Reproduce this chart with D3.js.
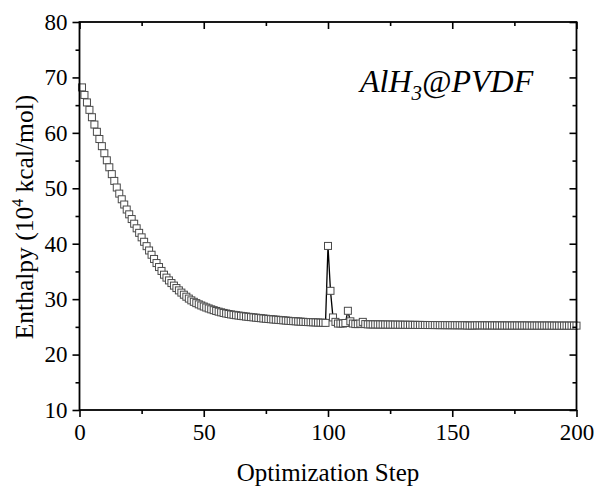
<!DOCTYPE html>
<html><head><meta charset="utf-8">
<script src="https://cdn.jsdelivr.net/npm/d3@7"></script>
<style>body{margin:0;background:#fff}</style>
</head><body>
<svg id="c" width="598" height="488"></svg>
<script>
// Enthalpy (10^4 kcal/mol) per optimization step, steps 1..200
const enthalpy = [
68.20,66.84,65.49,64.15,62.82,61.50,60.19,58.89,57.60,56.32,
55.05,53.79,52.55,51.33,50.14,49.04,48.02,47.07,46.17,45.30,
44.45,43.61,42.78,41.96,41.15,40.35,39.56,38.78,38.01,37.25,
36.51,35.79,35.09,34.41,33.88,33.38,32.90,32.44,32.00,31.58,
31.18,30.80,30.44,30.10,29.78,29.52,29.28,29.06,28.86,28.67,
28.49,28.32,28.16,28.01,27.87,27.74,27.62,27.51,27.41,27.32,
27.24,27.17,27.10,27.04,26.98,26.92,26.86,26.81,26.76,26.71,
26.66,26.61,26.56,26.51,26.46,26.42,26.38,26.34,26.30,26.26,
26.22,26.18,26.14,26.10,26.06,26.03,26.00,25.97,25.94,25.91,
25.88,25.86,25.84,25.82,25.80,25.78,25.76,25.74,25.72,39.60,
31.50,26.70,25.90,25.60,25.60,25.60,25.70,27.90,26.00,25.60,
25.50,25.50,25.60,25.90,25.50,25.45,25.45,25.44,25.44,25.43,
25.43,25.42,25.42,25.41,25.41,25.40,25.40,25.39,25.39,25.38,
25.38,25.37,25.37,25.36,25.36,25.35,25.35,25.34,25.34,25.33,
25.33,25.33,25.32,25.32,25.31,25.31,25.31,25.30,25.30,25.30,
25.29,25.29,25.29,25.28,25.28,25.25,25.24,25.24,25.25,25.27,
25.27,25.27,25.26,25.26,25.26,25.26,25.25,25.25,25.25,25.25,
25.24,25.24,25.24,25.24,25.24,25.24,25.24,25.24,25.24,25.24,
25.23,25.23,25.23,25.23,25.23,25.23,25.23,25.23,25.23,25.23,
25.22,25.22,25.22,25.22,25.22,25.22,25.22,25.22,25.22,25.22
];
const xMajor = [0, 50, 100, 150, 200];
const xMinor = [25, 75, 125, 175];
const yMajor = [10, 20, 30, 40, 50, 60, 70, 80];
const yMinor = [15, 25, 35, 45, 55, 65, 75];
const xTitle = "Optimization Step";
const annotation = {base: "AlH", sub: "3", rest: "@PVDF"};

const svg = d3.select("#c");
const L = 79.5, R = 576.5, T = 22, B = 410;
const x = d3.scaleLinear().domain([0, 200]).range([L, R]);
const y = d3.scaleLinear().domain([10, 80]).range([B, T]);
const font = "Liberation Serif";

const pts = enthalpy.map((v, i) => ({s: i + 1, v}));

// line beneath markers
svg.append("path").datum(pts)
  .attr("fill", "none").attr("stroke", "#000").attr("stroke-width", 1.3)
  .attr("d", d3.line().x(d => x(d.s)).y(d => y(d.v)));

// square markers
const sz = 7;
svg.append("g").selectAll("rect").data(pts).join("rect")
  .attr("x", d => x(d.s) - sz / 2).attr("y", d => y(d.v) - sz / 2)
  .attr("width", sz).attr("height", sz)
  .attr("fill", "#fff").attr("stroke", "#4a4a4a").attr("stroke-width", 1);

function styleAxis(g) {
  g.attr("font-family", font);
  g.select(".domain").remove();
  g.selectAll("line").attr("stroke", "#000").attr("stroke-width", 1.6);
  g.selectAll("text").attr("font-family", font).attr("font-size", 23).attr("fill", "#000");
}
// bottom
svg.append("g").attr("transform", `translate(0,${B})`)
  .call(d3.axisBottom(x).tickValues(xMajor).tickSize(7).tickPadding(7).tickFormat(d3.format("d"))).call(styleAxis);
svg.append("g").attr("transform", `translate(0,${B})`)
  .call(d3.axisBottom(x).tickValues(xMinor).tickSize(4).tickFormat("")).call(styleAxis);
// top (inward)
svg.append("g").attr("transform", `translate(0,${T})`)
  .call(d3.axisBottom(x).tickValues(xMajor).tickSize(7).tickFormat("")).call(styleAxis);
svg.append("g").attr("transform", `translate(0,${T})`)
  .call(d3.axisBottom(x).tickValues(xMinor).tickSize(4).tickFormat("")).call(styleAxis);
// left
svg.append("g").attr("transform", `translate(${L},0)`)
  .call(d3.axisLeft(y).tickValues(yMajor).tickSize(7).tickPadding(5).tickFormat(d3.format("d"))).call(styleAxis);
svg.append("g").attr("transform", `translate(${L},0)`)
  .call(d3.axisLeft(y).tickValues(yMinor).tickSize(4).tickFormat("")).call(styleAxis);
// right (inward)
svg.append("g").attr("transform", `translate(${R},0)`)
  .call(d3.axisLeft(y).tickValues(yMajor).tickSize(7).tickFormat("")).call(styleAxis);
svg.append("g").attr("transform", `translate(${R},0)`)
  .call(d3.axisLeft(y).tickValues(yMinor).tickSize(4).tickFormat("")).call(styleAxis);

// frame
svg.append("rect").attr("x", L).attr("y", T).attr("width", R - L).attr("height", B - T)
  .attr("fill", "none").attr("stroke", "#000").attr("stroke-width", 1.8);

// x title
svg.append("text").attr("x", (L + R) / 2).attr("y", 481).attr("text-anchor", "middle")
  .attr("font-family", font).attr("font-size", 25).text(xTitle);

// y title
const yt = svg.append("text").attr("transform", "translate(33,217) rotate(-90)")
  .attr("text-anchor", "middle").attr("font-family", font).attr("font-size", 25.5);
yt.append("tspan").text("Enthalpy (10");
yt.append("tspan").attr("dy", -10).attr("font-size", 16).text("4");
yt.append("tspan").attr("dy", 10).text(" kcal/mol)");

// annotation
const an = svg.append("text").attr("x", 360).attr("y", 92)
  .attr("font-family", font).attr("font-style", "italic").attr("font-size", 32);
an.append("tspan").text(annotation.base);
an.append("tspan").attr("dy", 8).attr("font-size", 21).text(annotation.sub);
an.append("tspan").attr("dy", -8).text(annotation.rest);
</script>
</body></html>
